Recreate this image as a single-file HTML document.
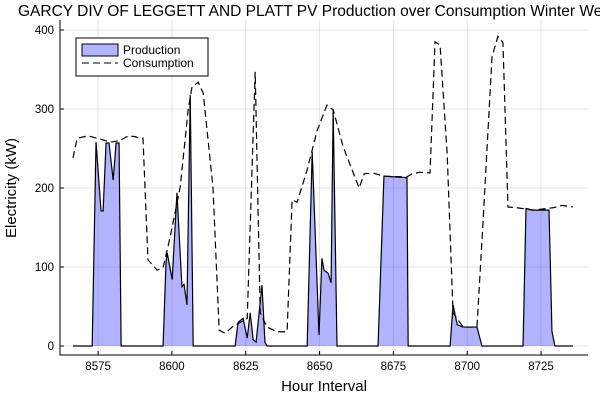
<!DOCTYPE html>
<html><head><meta charset="utf-8"><style>
body{margin:0;background:#fff;width:600px;height:400px;overflow:hidden}
svg{display:block;font-family:"Liberation Sans",sans-serif}
</style></head><body>
<svg id="chart" width="600" height="400"></svg>
<script>
const consHours=[8566.5,8567.9,8571.6,8575.7,8579.1,8582.4,8585.2,8587.5,8589.2,8590.2,8591.9,8595,8597,8599.4,8602.8,8605.5,8606.8,8608.9,8610.6,8613.9,8616,8618,8620.4,8625.5,8628.2,8629.9,8632.2,8635.6,8639,8640.7,8642.4,8645.8,8649.2,8652.5,8654.6,8658,8663.4,8665.1,8668.1,8671.5,8679.6,8681.3,8684,8687.4,8689.1,8690.8,8693.2,8695.2,8698.6,8703.3,8705.4,8708.4,8710.4,8712.1,8713.8,8716.9,8722.3,8729.1,8732.1,8735.8];
const consValues=[238,263,266,262,258,260,266,265,263,263,109,96,99,138,201,299,328,334,320,201,20,16,24,35,347,42,24,18,18,185,182,223,273,305,299,252,200,218,219,215,214,218,220,219,385,381,244,42,24,24,160,366,392,384,176,175,172,175,178,176];
const prodHours=[8566.5,8573,8574.3,8576,8576.7,8577.7,8578.7,8580.1,8581.1,8582.1,8582.8,8597,8598,8598.4,8600.1,8601.7,8603.4,8604.1,8605.1,8606.2,8607.2,8621.4,8622.4,8624.1,8625.5,8626.5,8627.5,8628.5,8630.5,8631.5,8632.2,8645.8,8647.5,8649.8,8650.8,8651.5,8652.9,8653.9,8654.6,8655.9,8669.8,8671.8,8679.6,8680,8694.2,8695.2,8696.6,8698.6,8703.3,8705,8718.9,8719.9,8722.3,8727.7,8728.7,8729.7,8735.8];
const prodValues=[0,0,258,171,171,257,257,210,257,257,0,0,106,118,84,194,75,78,52,318,0,0,30,35,10,42,8,5,77,5,0,0,246,14,111,96,92,80,299,0,0,215,213,0,0,52,27,24,24,0,0,174,172,172,18,0,0];
const xTicks=[8575,8600,8625,8650,8675,8700,8725];
const yTicks=[0,100,200,300,400];

const L=60,R=588,T=20,B=355,xmin=8562.1,xmax=8740.9;
const X=h=>L+(h-xmin)/(xmax-xmin)*(R-L);
const Y=v=>346-v*0.79;
const svg=document.getElementById('chart');
const NS='http://www.w3.org/2000/svg';
function mk(tag,attrs,parent){const e=document.createElementNS(NS,tag);for(const k in attrs)e.setAttribute(k,attrs[k]);(parent||svg).appendChild(e);return e;}

const title=mk('text',{x:18,y:16,'font-size':'15.5'});title.textContent='GARCY DIV OF LEGGETT AND PLATT PV Production over Consumption Winter Week';



xTicks.forEach(t=>{const g=mk('line',{x1:X(t),x2:X(t),y1:T,y2:B,stroke:'#000','stroke-opacity':0.1});


mk('line',{x1:X(t),x2:X(t),y1:B,y2:B-4,stroke:'#000'});
const tx=mk('text',{x:X(t),y:B+15,'font-size':'11.5','text-anchor':'middle'});tx.textContent=t;

});
yTicks.forEach(t=>{const g=mk('line',{x1:L,x2:R,y1:Y(t),y2:Y(t),stroke:'#000','stroke-opacity':0.1});


mk('line',{x1:L,x2:L+4,y1:Y(t),y2:Y(t),stroke:'#000'});
const tx=mk('text',{x:L-6,y:Y(t)+4,'font-size':'11.5','text-anchor':'end'});tx.textContent=t;

});
const ax=mk('path',{d:`M${L},${T}V${B}H${R}`,fill:'none',stroke:'#000'});



let pd='M'+X(prodHours[0])+','+Y(0);
prodHours.forEach((h,i)=>pd+='L'+X(h)+','+Y(prodValues[i]));
pd+='L'+X(prodHours[prodHours.length-1])+','+Y(0)+'Z';
const area=mk('path',{d:pd,fill:'#0000ff','fill-opacity':0.3,stroke:'none'});


const pl=mk('polyline',{points:prodHours.map((h,i)=>X(h)+','+Y(prodValues[i])).join(' '),fill:'none',stroke:'#000','stroke-width':1.2});


const cl=mk('polyline',{points:consHours.map((h,i)=>X(h)+','+Y(consValues[i])).join(' '),fill:'none',stroke:'#000','stroke-width':1.2,'stroke-dasharray':'7 4'});



const xl=mk('text',{x:324,y:391,'font-size':'15','text-anchor':'middle'});xl.textContent='Hour Interval';


const yl=mk('text',{x:0,y:0,'font-size':'15','text-anchor':'middle',transform:'translate(16,188) rotate(-90)'});yl.textContent='Electricity (kW)';



const lg=mk('g',{});


mk('rect',{x:76,y:38,width:132,height:38,fill:'#fff',stroke:'#000'},lg);
mk('rect',{x:82,y:44,width:36,height:12,fill:'#b3b3ff',stroke:'#000'},lg);
mk('line',{x1:82,x2:118,y1:63,y2:63,stroke:'#000','stroke-dasharray':'7 4'},lg);
const t1=mk('text',{x:123,y:54,'font-size':'12'},lg);t1.textContent='Production';


const t2=mk('text',{x:123,y:67,'font-size':'12'},lg);t2.textContent='Consumption';


</script>
</body></html>
